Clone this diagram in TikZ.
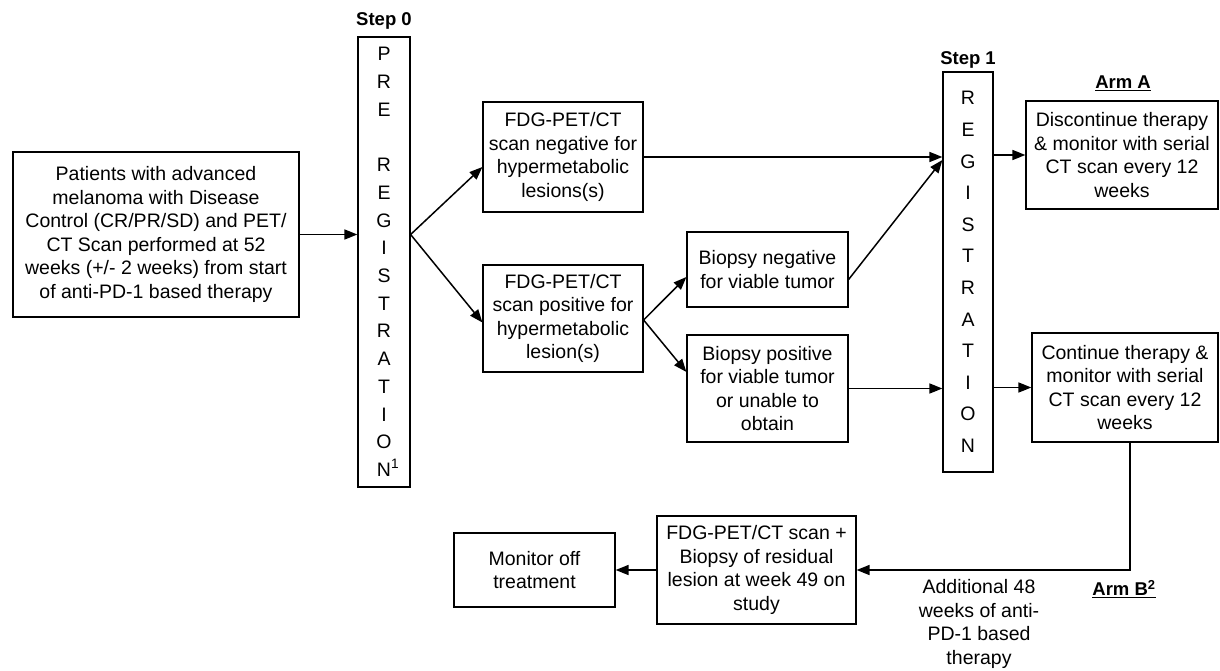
\documentclass[tikz,border=0pt]{standalone}
\usepackage{fontspec}
\setmainfont{Liberation Sans}
\usetikzlibrary{arrows.meta,calc}
\begin{document}
\begin{tikzpicture}[x=1pt,y=-1pt,
  box/.style={draw, line width=1.2pt, align=center, inner sep=2pt, font=\fontsize{19.5}{23.5}\selectfont},
  col/.style={draw, line width=1.2pt, align=center, inner sep=0pt},
  arr/.style={line width=1.5pt, -{Triangle[length=13pt,width=10pt]}},
  lbl/.style={font=\bfseries\fontsize{18.5}{22}\selectfont, inner sep=1pt},
  txt/.style={align=center, font=\fontsize{19.5}{23.5}\selectfont, inner sep=1pt}
  ]
\useasboundingbox (0,0) rectangle (1220,671);

% boxes
\node[box, minimum width=286pt, minimum height=165pt] (start) at (156,234.5)
  {Patients with advanced\\melanoma with Disease\\Control (CR/PR/SD) and PET/\\CT Scan performed at 52\\weeks (+/- 2 weeks) from start\\of anti-PD-1 based therapy};

\node[col, minimum width=52pt, minimum height=450pt, font=\fontsize{19.5}{27.7}\selectfont] (step0) at (384,262)
  {P\\R\\E\\\mbox{}\\R\\E\\G\\I\\S\\T\\R\\A\\T\\I\\O\\N\rlap{\textsuperscript{1}}};
\node[lbl] (s0lbl) at (384,21) {Step 0};

\node[box, minimum width=160pt, minimum height=110pt] (fdgneg) at (563,157)
  {FDG-PET/CT\\scan negative for\\hypermetabolic\\lesions(s)};
\node[box, minimum width=160pt, minimum height=107pt] (fdgpos) at (563,318.5)
  {FDG-PET/CT\\scan positive for\\hypermetabolic\\lesion(s)};

\node[box, minimum width=161pt, minimum height=75pt] (bxneg) at (767.5,269.5)
  {Biopsy negative\\for viable tumor};
\node[box, minimum width=161pt, minimum height=107pt] (bxpos) at (767.5,388.5)
  {Biopsy positive\\for viable tumor\\or unable to\\obtain};

\node[col, minimum width=50pt, minimum height=400pt, font=\fontsize{19.5}{31.6}\selectfont] (step1) at (968,272)
  {R\\E\\G\\I\\S\\T\\R\\A\\T\\I\\O\\N};
\node[lbl] (s1lbl) at (968,60) {Step 1};

\node[lbl] (armAlbl) at (1123,83) {\underline{Arm A}};
\node[box, minimum width=192pt, minimum height=108pt] (armA) at (1122,155)
  {Discontinue therapy\\\& monitor with serial\\CT scan every 12\\weeks};

\node[box, minimum width=186pt, minimum height=109pt] (cont) at (1125,387.5)
  {Continue therapy \&\\monitor with serial\\CT scan every 12\\weeks};

\node[box, minimum width=199pt, minimum height=108pt] (fdgbx) at (756.5,570)
  {FDG-PET/CT scan +\\Biopsy of residual\\lesion at week 49 on\\study};

\node[box, minimum width=161pt, minimum height=74pt] (monitor) at (534.5,570)
  {Monitor off\\treatment};

\node[txt] (addl) at (979,624) {Additional 48\\weeks of anti-\\PD-1 based\\therapy};
\node[lbl] (armBlbl) at (1124,589) {\underline{Arm B\textsuperscript{2}}};

% connectors
\coordinate (br) at (start.east -| step0.east);
\draw[arr] (start.east) -- (start.east -| step0.west);
\draw[arr] (br) -- ([yshift=-10pt]fdgneg.west);
\draw[arr] (br) -- ([yshift=-4pt]fdgpos.west);

\coordinate (s1top) at (fdgneg.east -| step1.west);
\draw[arr] (fdgneg.east) -- (s1top);
\draw[arr] ([yshift=-1.5pt]fdgpos.east) -- ([yshift=-7.5pt]bxneg.west);
\draw[arr] ([yshift=-1.5pt]fdgpos.east) -- ([yshift=16.5pt]bxpos.west);
\draw[arr] ([yshift=-10pt]bxneg.east) -- ([yshift=-3pt]s1top);
\draw[arr] (bxpos.east) -- (bxpos.east -| step1.west);

\draw[arr] (step1.east |- armA.west) -- (armA.west);
\draw[arr] (step1.east |- cont.west) -- (cont.west);

\coordinate (corner) at ([xshift=5pt]cont.south |- fdgbx.east);
\draw[arr] ([xshift=5pt]cont.south) -- (corner) -- (fdgbx.east);
\draw[arr] (fdgbx.west) -- (fdgbx.west -| monitor.east);
\end{tikzpicture}
\end{document}
